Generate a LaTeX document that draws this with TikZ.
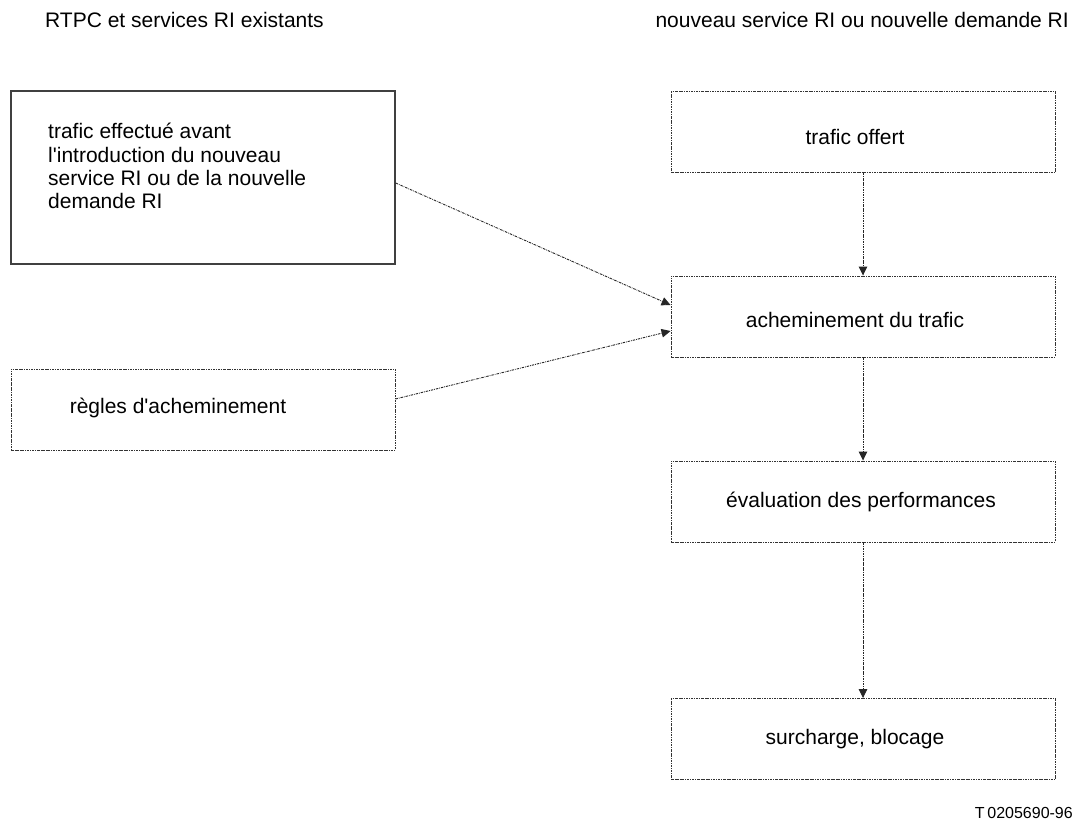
\documentclass[tikz,border=0pt]{standalone}
\usepackage{fontspec}
\setmainfont{Liberation Sans}
\usetikzlibrary{arrows.meta}
\begin{document}
\begin{tikzpicture}[x=1pt,y=-1pt,
  every node/.style={font=\fontsize{21}{23.4}\selectfont},
  dotbox/.style={draw=black!80, line width=0.9pt, dash pattern=on 2.5pt off 1pt on 0.7pt off 1pt, minimum width=384pt, minimum height=81pt, inner sep=0pt},
  solidbox/.style={draw=black!75, line width=1.4pt, minimum width=384pt, minimum height=173pt, inner sep=0pt},
  txt/.style={inner sep=0pt},
  conn/.style={draw=black!85, line width=0.9pt, dash pattern=on 2.5pt off 1pt on 0.7pt off 1pt, -{Triangle[length=9pt,width=8.5pt]}}
]
\useasboundingbox (0,0) rectangle (1076,828);
% titles
\node[txt, anchor=west] (t1) at (45,20) {RTPC et services RI existants};
\node[txt, anchor=east] (t2) at (1069,20) {nouveau service RI ou nouvelle demande RI};
% boxes
\node[solidbox] (b1) at (203,177.5) {};
\node[txt, anchor=north west, align=left] (b1t) at (48,123) {trafic effectué avant\\l\textquotesingle introduction du nouveau\\service RI ou de la nouvelle\\demande RI};
\node[dotbox] (b4) at (203,409.5) {};
\node[txt] (b4t) at (178,408) {règles d\textquotesingle acheminement};
\node[dotbox] (b2) at (863,132) {};
\node[txt] (b2t) at (855,137) {trafic offert};
\node[dotbox] (b3) at (863,316.5) {};
\node[txt] (b3t) at (855,320) {acheminement du trafic};
\node[dotbox] (b5) at (863,501.5) {};
\node[txt] (b5t) at (861,502) {évaluation des performances};
\node[dotbox] (b6) at (863,739) {};
\node[txt] (b6t) at (855,739) {surcharge, blocage};
% label
\node[txt, anchor=east, font=\fontsize{16}{18}\selectfont] (lab) at (1073,813) {T\,0205690-96};
% connectors
\draw[conn] (b2.south) -- (b3.north);
\draw[conn] (b3.south) -- (b5.north);
\draw[conn] (b5.south) -- (b6.north);
\draw[conn] ([yshift=-5.5pt]b1.east) -- ([yshift=11.5pt]b3.west);
\draw[conn] ([yshift=10.5pt]b4.east) -- ([yshift=-14.5pt]b3.west);
\end{tikzpicture}
\end{document}
